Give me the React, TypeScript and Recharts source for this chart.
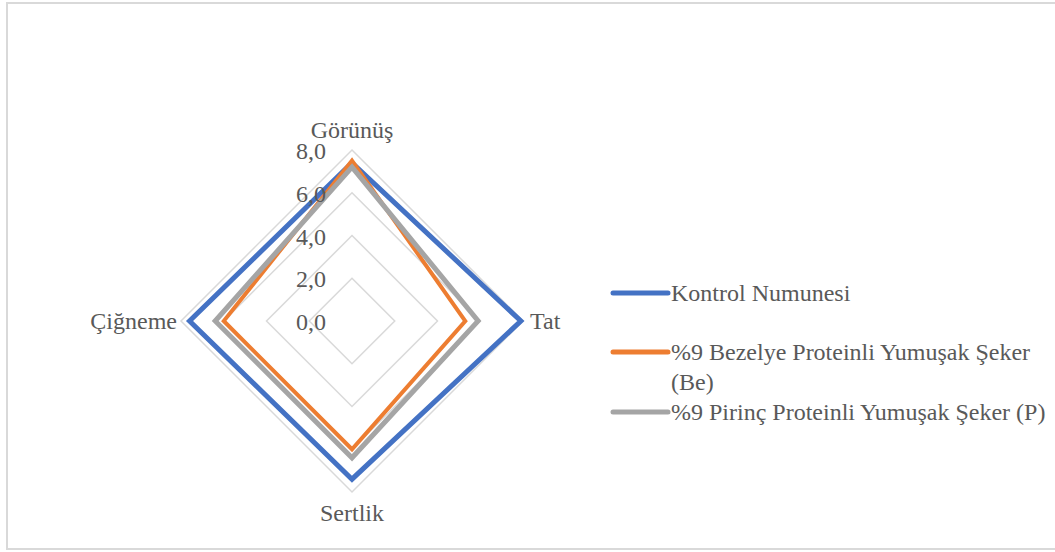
import React from 'react';
import { RadarChart, Radar, PolarGrid, PolarAngleAxis, PolarRadiusAxis, Legend } from 'recharts';

const categories = ['Görünüş', 'Tat', 'Sertlik', 'Çiğneme'];
const kontrol = [7.4, 7.9, 7.4, 7.6];
const bezelye = [7.5, 5.3, 6.0, 6.0];
const pirinc = [7.2, 5.9, 6.4, 6.4];
const radiusTickLabels = ['0,0', '2,0', '4,0', '6,0', '8,0'];

const seriesNames = [
  'Kontrol Numunesi',
  '%9 Bezelye Proteinli Yumuşak Şeker (Be)',
  '%9 Pirinç Proteinli Yumuşak Şeker (P)',
];
const seriesKeys = ['kontrol', 'bezelye', 'pirinc'];
const seriesColors = ['#4472C4', '#ED7D31', '#A5A5A5'];
const seriesWidths = [5, 4, 5];

const data = categories.map((c, i) => ({
  category: c,
  kontrol: kontrol[i],
  bezelye: bezelye[i],
  pirinc: pirinc[i],
}));

const FONT = '"Liberation Serif", "Times New Roman", serif';
const TEXT = '#595959';
const FS = 24;
const CX = 352;
const CY = 321;
const R = 171;

const AngleTick = (props: any) => {
  const { x, y, payload } = props;
  let tx = x;
  let ty = y;
  let anchor: 'start' | 'middle' | 'end' = 'middle';
  let baseline: any = 'central';
  if (Math.abs(y - CY) < 2) {
    if (x > CX) {
      anchor = 'start';
      tx = x - 1;
    } else {
      anchor = 'end';
      tx = x + 4;
    }
  } else if (y < CY) {
    baseline = 'auto';
    ty = y - 4;
  } else {
    ty = y + 13;
  }
  return (
    <text x={tx} y={ty} textAnchor={anchor} dominantBaseline={baseline} fill={TEXT} fontSize={FS} fontFamily={FONT}>
      {payload.value}
    </text>
  );
};

const RadiusTick = (props: any) => {
  const { x, y, index } = props;
  return (
    <text x={x - 26} y={y + 1} textAnchor="end" dominantBaseline="central" fill={TEXT} fontSize={FS} fontFamily={FONT}>
      {radiusTickLabels[index]}
    </text>
  );
};

const LegendContent = () => (
  <div style={{ fontFamily: FONT, fontSize: FS, color: TEXT, lineHeight: '30px' }}>
    {seriesNames.map((n, i) => (
      <div key={n} style={{ display: 'flex', alignItems: 'flex-start', marginBottom: i === 0 ? 29 : 0 }}>
        <svg width={61} height={30} style={{ flex: 'none' }}>
          <line x1={3} y1={15} x2={58} y2={15} stroke={seriesColors[i]} strokeWidth={5} strokeLinecap="round" />
        </svg>
        <div style={{ width: 384 }}>{n}</div>
      </div>
    ))}
  </div>
);

export default function App() {
  return (
    <div style={{ position: 'absolute', left: 0, top: 0, width: 1055, height: 552, overflow: 'hidden', background: '#fff' }}>
      <div style={{ position: 'absolute', left: 6, top: 2, width: 1060, height: 544, border: '2px solid #D9D9D9' }} />
      <RadarChart width={1055} height={552} data={data} cx={CX} cy={CY} outerRadius={R} margin={{ top: 0, right: 0, bottom: 0, left: 0 }}>
        <PolarGrid gridType="polygon" radialLines={false} stroke="#D9D9D9" strokeWidth={1.5} />
        <PolarAngleAxis dataKey="category" tick={<AngleTick />} tickLine={false} axisLine={false} />
        {seriesKeys.map((k, i) => (
          <Radar
            key={k}
            name={seriesNames[i]}
            dataKey={k}
            stroke={seriesColors[i]}
            strokeWidth={seriesWidths[i]}
            fill="none"
            fillOpacity={0}
            dot={false}
            isAnimationActive={false}
          />
        ))}
        <PolarRadiusAxis angle={90} domain={[0, 8]} tickCount={5} axisLine={false} tickLine={false} tick={<RadiusTick />} />
        <Legend
          layout="vertical"
          content={<LegendContent />}
          wrapperStyle={{ position: 'absolute', left: 610, top: 278, width: 445 }}
        />
      </RadarChart>
    </div>
  );
}
